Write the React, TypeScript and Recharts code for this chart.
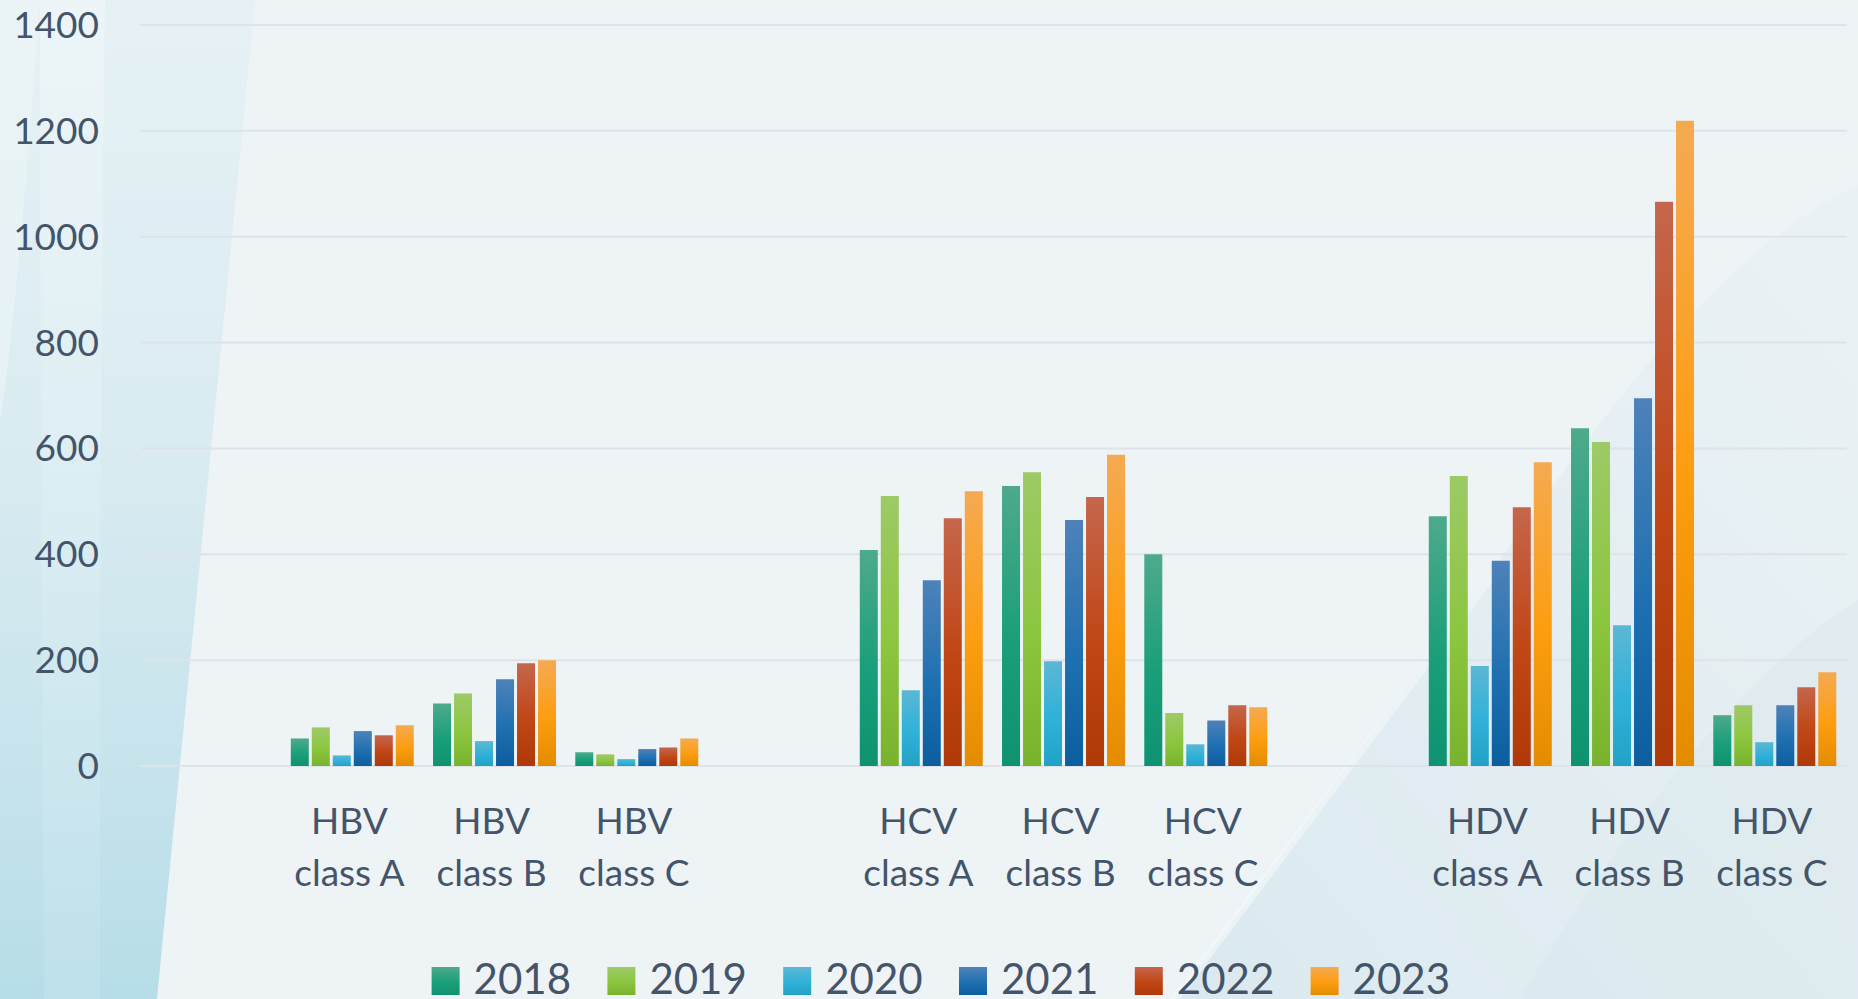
import React from "react";
import { BarChart, Bar, XAxis, YAxis, CartesianGrid, Legend } from "recharts";

const categories = [
  "",
  "HBV\nclass A",
  "HBV\nclass B",
  "HBV\nclass C",
  " ",
  "HCV\nclass A",
  "HCV\nclass B",
  "HCV\nclass C",
  "  ",
  "HDV\nclass A",
  "HDV\nclass B",
  "HDV\nclass C",
];

const years = ["2018", "2019", "2020", "2021", "2022", "2023"];

const v2018 = [null, 52, 118, 26, null, 408, 529, 400, null, 472, 638, 96];
const v2019 = [null, 73, 137, 22, null, 510, 555, 100, null, 548, 612, 115];
const v2020 = [null, 20, 47, 13, null, 143, 198, 41, null, 189, 266, 45];
const v2021 = [null, 66, 164, 32, null, 351, 465, 86, null, 388, 695, 115];
const v2022 = [null, 58, 194, 35, null, 468, 508, 115, null, 489, 1066, 149];
const v2023 = [null, 77, 200, 52, null, 519, 588, 111, null, 574, 1219, 177];

const yTicks = [0, 200, 400, 600, 800, 1000, 1200, 1400];

const seriesValues = [v2018, v2019, v2020, v2021, v2022, v2023];

const gradients = [
  ["#4eaa8b", "#1a9f7a", "#0e9270"],
  ["#9dca66", "#8cc63f", "#79b32d"],
  ["#5cb7d4", "#2fb1d9", "#21a2c5"],
  ["#4e82b9", "#1f70b1", "#0c5e9f"],
  ["#c5664c", "#c04615", "#af3908"],
  ["#f5aa52", "#fd9d10", "#e48c00"],
];

const data = categories.map((c, i) => {
  const row: Record<string, any> = { cat: c };
  years.forEach((y, k) => {
    row[y] = seriesValues[k][i];
  });
  return row;
});

const TEXT = "#44546a";
const FONT = "Lato, 'Noto Sans', sans-serif";

const XTick = (props: any) => {
  const { x, y, payload } = props;
  if (!payload.value || !String(payload.value).trim()) return null;
  const lines = String(payload.value).split("\n");
  const cx = x - 4;
  return (
    <text x={cx} y={y} textAnchor="middle" fill={TEXT} fontSize={37} fontFamily={FONT}>
      <tspan x={cx} y={y + 68}>{lines[0]}</tspan>
      <tspan x={cx} y={y + 120}>{lines[1]}</tspan>
    </text>
  );
};

const YTick = (props: any) => {
  const { x, y, payload } = props;
  return (
    <text x={x - 41} y={y} dy={13} textAnchor="end" fill={TEXT} fontSize={37} fontFamily={FONT}>
      {payload.value}
    </text>
  );
};

const renderLegend = () => (
  <svg width={1858} height={50} style={{ display: "block" }}>
    <defs>
      {gradients.map((g, i) => (
        <linearGradient key={i} id={`lg${i}`} x1="0" y1="0" x2="0" y2="1">
          <stop offset="0" stopColor={g[0]} />
          <stop offset="0.55" stopColor={g[1]} />
          <stop offset="1" stopColor={g[2]} />
        </linearGradient>
      ))}
    </defs>
    {years.map((yr, i) => {
      const left = 431.6 + i * 175.8;
      return (
        <g key={yr}>
          <rect x={left} y={18} width={28} height={28} fill={`url(#lg${i})`} />
          <text x={left + 42} y={45} fill={TEXT} fontSize={42} fontFamily={FONT}>
            {yr}
          </text>
        </g>
      );
    })}
  </svg>
);

const Background = () => (
  <svg
    width={1858}
    height={999}
    style={{ position: "absolute", left: 0, top: 0 }}
  >
    <defs>
      <linearGradient id="leftBand" x1="0" y1="0" x2="0" y2="1">
        <stop offset="0" stopColor="#e2f0f4" stopOpacity="0.7" />
        <stop offset="0.45" stopColor="#d6eaf0" stopOpacity="0.85" />
        <stop offset="1" stopColor="#b6dde8" stopOpacity="1" />
      </linearGradient>
      <linearGradient id="leftInner" x1="0" y1="0" x2="0" y2="1">
        <stop offset="0" stopColor="#ffffff" stopOpacity="0.3" />
        <stop offset="1" stopColor="#c9e6ee" stopOpacity="0.4" />
      </linearGradient>
      <linearGradient id="brBand" x1="0" y1="1" x2="1" y2="0">
        <stop offset="0" stopColor="#d8e8ee" stopOpacity="0.9" />
        <stop offset="1" stopColor="#e6f0f3" stopOpacity="0.5" />
      </linearGradient>
    </defs>
    <rect x={0} y={0} width={1858} height={999} fill="#eef3f6" />
    <path d="M0,0 L255,0 C230,260 200,560 157,999 L0,999 Z" fill="url(#leftBand)" />
    <path d="M40,0 L105,0 C100,350 100,700 100,999 L44,999 C42,650 40,300 40,0 Z" fill="url(#leftInner)" />
    <path d="M0,0 L40,0 C25,200 12,350 0,420 Z" fill="#f0f7f9" opacity={0.5} />
    <path d="M1175,999 L1500,560 C1600,420 1720,250 1858,185 L1858,999 Z" fill="url(#brBand)" />
    <path d="M1520,999 C1640,800 1760,660 1858,600 L1858,999 Z" fill="#d6e6ec" opacity={0.4} />
    <path d="M1170,999 L1500,560 L1506,564 L1180,999 Z" fill="#f4f8fa" opacity={0.6} />
  </svg>
);

export default function App() {
  return (
    <div
      style={{
        position: "absolute",
        left: 0,
        top: 0,
        width: 1858,
        height: 999,
        overflow: "hidden",
      }}
    >
      <Background />
      <BarChart
        width={1858}
        height={999}
        data={data}
        margin={{ top: 25, right: 11, bottom: 0, left: 0 }}
        barCategoryGap="6%"
        barGap={3}
      >
        <defs>
          {gradients.map((g, i) => (
            <linearGradient key={i} id={`bg${i}`} x1="0" y1="0" x2="0" y2="1">
              <stop offset="0" stopColor={g[0]} />
              <stop offset="0.55" stopColor={g[1]} />
              <stop offset="1" stopColor={g[2]} />
            </linearGradient>
          ))}
        </defs>
        <CartesianGrid vertical={false} stroke="#dde3e9" strokeWidth={2} />
        <XAxis
          dataKey="cat"
          height={233}
          axisLine={false}
          tickLine={false}
          tickSize={0}
          tickMargin={0}
          interval={0}
          tick={<XTick />}
        />
        <YAxis
          width={140}
          domain={[0, 1400]}
          ticks={yTicks}
          axisLine={false}
          tickLine={false}
          tickSize={0}
          tickMargin={0}
          tick={<YTick />}
          interval={0}
        />
        <Legend
          layout="horizontal"
          verticalAlign="middle"
          align="center"
          wrapperStyle={{ left: 0, top: 949, width: 1858, height: 50 }}
          content={renderLegend}
        />
        {years.map((y, i) => (
          <Bar key={y} dataKey={y} fill={`url(#bg${i})`} isAnimationActive={false} />
        ))}
      </BarChart>
    </div>
  );
}
